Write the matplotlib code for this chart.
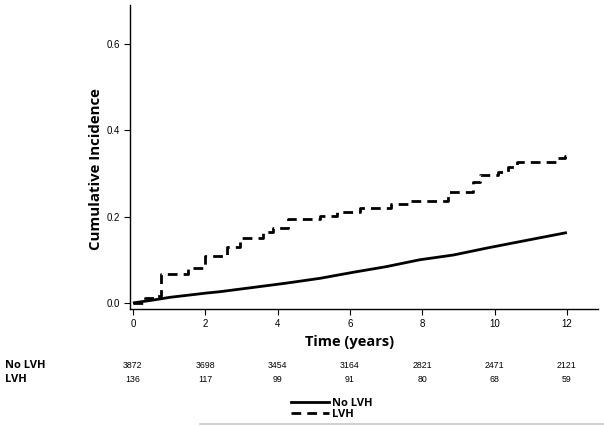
import matplotlib
matplotlib.use('Agg')
import matplotlib.pyplot as plt
import matplotlib.transforms as mtransforms
from matplotlib.lines import Line2D

# step curve for LVH (time in years, cumulative incidence)
t_lvh = [0, 0.33, 0.65, 0.79, 1.52, 1.99, 2.59, 2.96, 3.6, 3.87, 4.29, 5.17, 5.63,
         6.28, 7.15, 7.66, 8.72, 9.41, 9.59, 10.1, 10.38, 10.61, 11.71, 11.94, 12.0]
ci_lvh = [0, 0.012, 0.016, 0.066, 0.080, 0.109, 0.130, 0.150, 0.165, 0.174, 0.194, 0.201, 0.210,
          0.219, 0.229, 0.236, 0.256, 0.280, 0.296, 0.304, 0.314, 0.327, 0.335, 0.341, 0.341]

# near-smooth curve for No LVH
t_nolvh = [0, 0.58, 1.02, 2.04, 2.4, 3.33, 4.25, 5.17, 6.09, 7.0, 7.93, 8.86, 9.78, 10.7, 12.0]
ci_nolvh = [0, 0.007, 0.013, 0.023, 0.026, 0.036, 0.046, 0.057, 0.071, 0.084, 0.100, 0.111,
            0.127, 0.142, 0.163]

risk_times = [0, 2, 4, 6, 8, 10, 12]
risk_nolvh = [3872, 3698, 3454, 3164, 2821, 2471, 2121]
risk_lvh = [136, 117, 99, 91, 80, 68, 59]

bold_font = 'Open Sans'
tick_font = 'Liberation Sans'

fig = plt.figure(figsize=(6.04, 4.26), dpi=100)
ax = fig.add_axes([130/604, 1 - 309/426, (598-130)/604, (309-5)/426])

ax.plot(t_nolvh, ci_nolvh, color='black', lw=2.0, solid_capstyle='butt', label='No LVH')
ax.plot(t_lvh, ci_lvh, color='black', lw=2.0, drawstyle='steps-post',
        dashes=(3.5, 2.2), label='LVH')

ax.set_xlim(-0.08, 12.86)
ax.set_ylim(-0.014, 0.69)
ax.set_xticks(risk_times)
ax.set_yticks([0.0, 0.2, 0.4, 0.6])
ax.set_yticklabels(['0.0', '0.2', '0.4', '0.6'])
for lab in ax.get_xticklabels() + ax.get_yticklabels():
    lab.set_fontfamily(tick_font)
    lab.set_fontsize(7)
ax.tick_params(direction='out', length=4, width=0.8, pad=3)

for s in ['top', 'right']:
    ax.spines[s].set_visible(False)
for s in ['left', 'bottom']:
    ax.spines[s].set_linewidth(1.0)

ax.set_ylabel('Cumulative Incidence', fontfamily=bold_font, fontweight='bold', fontsize=10.8)
ax.yaxis.set_label_coords(-0.058, 0.46)
ax.set_xlabel('Time (years)', fontfamily=bold_font, fontweight='bold', fontsize=10.5)
ax.xaxis.set_label_coords((6 + 0.08) / 12.94, -0.085)

# number at risk table
trans = mtransforms.blended_transform_factory(ax.transData, fig.transFigure)
y1 = 1 - 366/426
y2 = 1 - 379/426
fig.text(5/604, y1, 'No LVH', fontfamily=bold_font, fontweight='bold', fontsize=8, va='center')
fig.text(5/604, y2, 'LVH', fontfamily=bold_font, fontweight='bold', fontsize=8, va='center')
for t, n1, n2 in zip(risk_times, risk_nolvh, risk_lvh):
    fig.text(t, y1, str(n1), transform=trans, ha='center', va='center', fontsize=6.3, fontfamily=tick_font)
    fig.text(t, y2, str(n2), transform=trans, ha='center', va='center', fontsize=6.3, fontfamily=tick_font)

# legend
handles = [Line2D([], [], color='black', lw=2.0),
           Line2D([], [], color='black', lw=2.0, dashes=(3.5, 2.2))]
fig.legend(handles, ['No LVH', 'LVH'], loc='upper left', bbox_to_anchor=(291/604, 1 - 398/426),
           frameon=False, borderpad=0, borderaxespad=0, handlelength=3.4, handletextpad=0.3,
           labelspacing=0.0, prop={'family': bold_font, 'weight': 'bold', 'size': 8})

fig.add_artist(Line2D([200/604, 1.0], [1 - 424/426, 1 - 424/426], color='#c8c8c8', lw=1.2,
                      transform=fig.transFigure))

fig.savefig('out.png', dpi=100)
